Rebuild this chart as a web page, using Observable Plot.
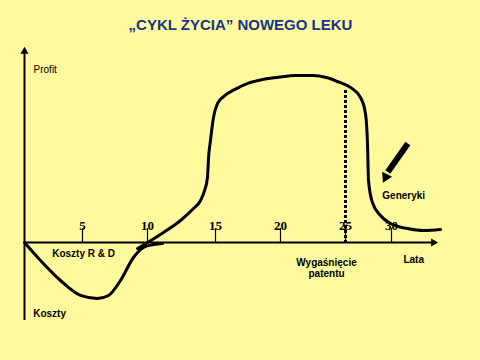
<!DOCTYPE html>
<html><head><meta charset="utf-8">
<script src="https://cdn.jsdelivr.net/npm/d3@7"></script>
<script src="https://cdn.jsdelivr.net/npm/@observablehq/plot@0.6"></script>
<style>html,body{margin:0;padding:0;background:#FFFA9E;} svg{display:block}</style>
</head><body><div id="chart"></div>
<script>
const title = "„CYKL ŻYCIA” NOWEGO LEKU";
const tickYears = [5, 10, 15, 20, 25, 30];
const tickLabels = ["5", "10", "15", "20", "25", "30"];

// R&D cost curve (years, value)
const costYear  = [0, 1.38, 3.10, 4.83, 6.15, 7.0, 7.92, 8.92, 9.69, 10.44, 11.1];
const costValue = [0, -10.7, -22.6, -31.5, -33.3, -31.5, -22.6, -8.9, -3.0, -1.2, -0.6];

// profit curve (years, value)
const profitYear  = [9.23, 10, 11.18, 12.43, 13.38, 13.9, 14.2, 14.41, 14.49, 14.63, 14.85, 15.15, 15.62, 16.54, 17.54, 18.62, 19.85, 21.15, 22.46, 23.6, 24.38, 25.54, 26.63, 27.17, 27.39, 27.5, 27.93, 28.8, 29.89, 31.27, 32.55, 33.9];
const profitValue = [-3.6, 0, 6.0, 13.1, 20.2, 25.0, 31.0, 38.7, 50.6, 60.7, 74.4, 82.7, 86.8, 91.3, 94.8, 97.0, 98.4, 99.4, 99.4, 98.0, 95.8, 92.3, 86.3, 76.8, 58.9, 36.9, 23.8, 16.1, 11.3, 8.3, 7.1, 7.7];

const patentYear = 25;
const patentTop = 90.5;

const plainLabels = [{t: "Profit", x: 0.78, y: 100.6}];
const boldLeftLabels = [
  {t: "Koszty", x: 0.75, y: -44.6},
  {t: "Koszty R & D", x: 2.39, y: -8.9},
  {t: "Lata", x: 30.95, y: -11.9},
  {t: "Generyki", x: 29.0, y: 25.6}
];
const boldCenterLabels = [
  {t: "Wygaśnięcie", x: 23.54, y: -13.7},
  {t: "patentu", x: 23.54, y: -20.6}
];

const cost = costYear.map((x, i) => ({x, y: costValue[i]}));
const profit = profitYear.map((x, i) => ({x, y: profitValue[i]}));
const ticks = tickYears.map((x, i) => ({x, label: tickLabels[i]}));
const heads = [
  {x: 0, y: 113.7, rot: 0, r: 3.2},
  {x: 33.34, y: 0, rot: 90, r: 3.2},
  {x: 29.37, y: 38.9, rot: 206.6, r: 6}
];

// hand-drawn, uneven year axis: piecewise warp of years onto the axis length
const warp = d3.scaleLinear()
  .domain([0, 5, 10, 15, 20, 25, 30, 33.5])
  .range([0, 58, 123, 191, 256, 321, 367, 411]);

const txt = {x: "x", y: "y", text: "t", lineAnchor: "bottom", fontSize: 10, fill: "black"};

const chart = Plot.plot({
  width: 480, height: 360, margin: 0,
  x: {transform: warp, domain: [0, 411], range: [24, 435], axis: null},
  y: {domain: [-70.2, 144], range: [360, 0], axis: null},
  style: {background: "transparent", fontFamily: "'Liberation Sans', Arial, sans-serif"},
  marks: [
    Plot.text([title], {frameAnchor: "top", lineAnchor: "bottom", dy: 29, text: d => d, fontSize: 15, fontWeight: "bold", fill: "#14358c"}),
    Plot.ruleY([0], {x1: 0, x2: 33.3, stroke: "black", strokeWidth: 2}),
    Plot.ruleX([0], {y1: -46.4, y2: 113, stroke: "black", strokeWidth: 2}),
    Plot.ruleX(ticks, {x: "x", y1: 0, y2: 8.3, stroke: "black", strokeWidth: 1.2}),
    Plot.text(ticks, {x: "x", y: 7.7, text: "label", lineAnchor: "bottom", fontSize: 13, fontWeight: "bold", fontFamily: "'Liberation Serif', 'Times New Roman', serif", fill: "black"}),
    Plot.ruleX([patentYear], {y1: -0.6, y2: patentTop, stroke: "black", strokeWidth: 3, strokeDasharray: "3,2"}),
    Plot.line(cost, {x: "x", y: "y", curve: "monotone-x", stroke: "black", strokeWidth: 3}),
    Plot.line(profit, {x: "x", y: "y", curve: "monotone-x", stroke: "black", strokeWidth: 3}),
    Plot.link([{x1: 31.3, y1: 58.9, x2: 29.6, y2: 42}], {x1: "x1", y1: "y1", x2: "x2", y2: "y2", stroke: "black", strokeWidth: 6}),
    Plot.dot(heads, {x: "x", y: "y", r: "r", rotate: "rot", symbol: "triangle", fill: "black", stroke: "none"}),
    Plot.text(plainLabels, {...txt, textAnchor: "start"}),
    Plot.text(boldLeftLabels, {...txt, textAnchor: "start", fontWeight: "bold"}),
    Plot.text(boldCenterLabels, {...txt, textAnchor: "middle", fontWeight: "bold"})
  ]
});
document.getElementById("chart").appendChild(chart);
</script>
</body></html>
